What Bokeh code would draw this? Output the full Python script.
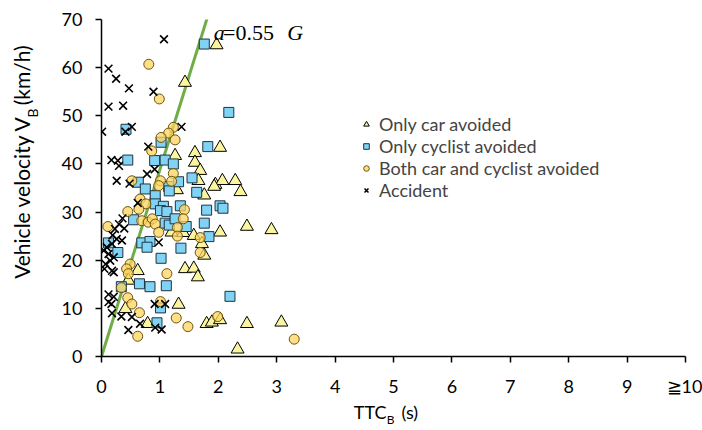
import numpy as np
from bokeh.plotting import figure
from bokeh.models import Legend, LegendItem, FixedTicker, LinearAxis
from bokeh.core.properties import value
from bokeh.embed import file_html
from bokeh.resources import INLINE

# ---------------- data (TTC_B in s, V_B in km/h) ----------------
car_ttc = [1.97, 1.43, 2.03, 1.26, 1.60, 1.60, 1.69, 1.66, 1.95, 2.07, 2.29, 1.29, 1.76, 1.93,
           2.38, 2.03, 2.49, 2.91, 1.20, 1.40, 1.58, 1.72, 1.76, 0.62, 1.43, 1.58, 1.65, 0.46,
           0.41, 1.32, 0.79, 1.80, 1.89, 2.03, 2.49, 3.08, 2.33]
car_v = [64.7, 56.9, 43.4, 41.7, 42.3, 40.3, 38.6, 36.5, 35.7, 36.5, 36.5, 34.6, 33.5, 35.3,
         34.2, 25.8, 27.0, 26.3, 25.8, 25.7, 25.1, 23.4, 21.0, 17.8, 18.2, 18.3, 16.5, 15.8,
         9.9, 10.8, 6.8, 6.8, 7.1, 7.6, 6.8, 7.1, 1.5]

cyc_ttc = [1.76, 2.18, 0.42, 1.02, 1.82, 0.45, 0.91, 1.09, 1.23, 0.63, 1.32, 1.55, 1.15, 0.75,
           1.16, 1.63, 0.92, 0.92, 1.06, 1.01, 1.12, 1.35, 1.80, 2.03, 2.08, 0.55, 1.09, 1.16,
           1.26, 1.45, 1.76, 1.84, 0.69, 0.83, 0.78, 0.12, 0.28, 1.36, 1.02, 0.34, 0.65, 0.83,
           1.11, 2.20, 1.01, 0.95]
cyc_v = [64.9, 50.7, 47.2, 44.5, 43.6, 40.8, 40.7, 40.8, 40.0, 36.2, 36.3, 37.1, 35.3, 34.8,
         34.4, 34.1, 33.4, 31.7, 31.2, 30.3, 30.1, 31.3, 30.4, 31.3, 30.8, 28.4, 27.7, 27.3,
         28.6, 27.0, 27.7, 24.9, 23.6, 23.9, 22.7, 23.6, 21.6, 22.5, 20.4, 14.5, 15.1, 14.5,
         14.7, 12.5, 10.1, 7.0]

both_ttc = [0.81, 0.99, 1.23, 1.15, 1.02, 1.26, 0.86, 1.23, 0.52, 1.01, 1.20, 0.98, 0.66, 0.76,
            1.42, 0.45, 0.64, 0.69, 0.80, 0.87, 0.92, 1.40, 1.30, 0.11, 0.98, 1.30, 1.69, 1.69,
            0.49, 0.43, 1.12, 0.46, 0.34, 0.45, 0.52, 0.65, 0.62, 1.01, 1.28, 1.48, 1.99, 3.30]
both_v = [60.7, 53.5, 47.6, 46.4, 45.5, 45.0, 42.7, 38.0, 36.5, 36.5, 36.4, 35.5, 32.7, 31.7,
          30.5, 30.1, 30.6, 28.2, 27.9, 28.6, 27.5, 28.6, 26.8, 27.0, 25.8, 25.0, 24.7, 21.6,
          19.2, 18.2, 17.2, 17.2, 14.3, 12.2, 10.9, 9.1, 4.2, 11.4, 8.0, 6.2, 8.3, 3.6]

acc_ttc = [1.07, 0.12, 0.25, 0.47, 0.89, 0.12, 0.37, 0.01, 0.41, 0.52, 1.37, 0.80, 0.17, 0.28,
           0.30, 0.91, 0.78, 0.26, 0.48, 0.62, 0.36, 0.23, 0.30, 0.39, 0.19, 0.26, 0.35, 0.18,
           0.98, 0.09, 0.12, 0.21, 0.04, 0.15, 0.05, 0.18, 0.21, 0.07, 0.12, 0.21, 0.17, 0.12,
           0.18, 0.34, 0.52, 0.66, 0.46, 0.91, 1.09, 0.92, 1.03]
acc_v = [65.9, 59.8, 57.7, 55.7, 55.0, 51.9, 52.1, 46.7, 46.7, 47.7, 47.7, 43.6, 40.8, 40.7,
         39.6, 38.9, 37.9, 36.5, 35.9, 31.9, 28.7, 26.5, 27.5, 26.6, 25.2, 24.4, 24.1, 23.4,
         23.7, 22.7, 21.3, 20.6, 22.0, 19.9, 18.2, 17.8, 17.5, 19.2, 12.9, 12.4, 10.9, 11.3,
         9.0, 8.3, 8.2, 6.8, 5.5, 10.9, 10.9, 6.0, 5.6]

x_ticks = [0, 1, 2, 3, 4, 5, 6, 7, 8, 9, 10]
x_tick_labels = ["0", "1", "2", "3", "4", "5", "6", "7", "8", "9", "\u226710"]
y_ticks = [0, 10, 20, 30, 40, 50, 60, 70]

series_labels = ["Only car avoided", "Only cyclist avoided",
                 "Both car and cyclist avoided", "Accident"]

decel_g = 0.55
line_v = [0, 80]  # km/h
line_ttc = [v / 3.6 / (2 * decel_g * 9.81) for v in line_v]

FONT = "Lato"
FS = "18px"

p = figure(width=702, height=430, output_backend="svg", toolbar_location=None,
           x_range=(0, 10), y_range=(0, 70),
           min_border_left=101, min_border_right=17, min_border_top=19, min_border_bottom=74)
p.outline_line_color = None
p.grid.grid_line_color = None
p.background_fill_color = "white"
p.border_fill_color = "white"

for ax in (p.xaxis[0], p.yaxis[0]):
    ax.axis_line_color = "black"
    ax.axis_line_width = 1.5
    ax.major_tick_line_color = "black"
    ax.major_tick_line_width = 1.5
    ax.major_tick_out = 6
    ax.major_tick_in = 0
    ax.minor_tick_line_color = None
    ax.major_label_text_font = FONT
    ax.major_label_text_font_size = FS
    ax.major_label_text_color = "black"

p.xaxis.ticker = FixedTicker(ticks=x_ticks)
p.xaxis.major_label_overrides = {t: l for t, l in zip(x_ticks, x_tick_labels)}
p.xaxis.major_label_standoff = 12
p.yaxis.ticker = FixedTicker(ticks=y_ticks)
p.yaxis.major_label_standoff = 13


def text_axis(pos_labels, font_size, standoff, vertical=False):
    ticks = [t for t, _ in pos_labels]
    ax = LinearAxis(ticker=FixedTicker(ticks=ticks),
                    major_label_overrides={t: s for t, s in pos_labels},
                    axis_line_color=None, major_tick_line_color=None,
                    minor_tick_line_color=None, major_tick_out=0, major_tick_in=0,
                    minor_tick_out=0, minor_tick_in=0,
                    major_label_standoff=standoff,
                    major_label_text_font=FONT, major_label_text_font_size=font_size,
                    major_label_text_color="black")
    if vertical:
        ax.major_label_orientation = "vertical"
    return ax


# x-axis title "TTC_B (s)" built from label-only axes
p.add_layout(text_axis([(4.60, "TTC"), (5.28, "(s)")], FS, 1), "below")
p.add_layout(text_axis([(4.95, "B")], "12px", -14), "below")

# y-axis title "Vehicle velocity V_B (km/h)"
p.add_layout(text_axis([(50.6, "B")], "14px", 17, vertical=True), "left")
p.add_layout(text_axis([(33.1, "Vehicle velocity V"), (58.4, "(km/h)")], "21px", -13,
                       vertical=True), "left")

# green deceleration line
p.line(line_ttc, line_v, line_color="#70AD47", line_width=3)

r_car = p.scatter(car_ttc, car_v, marker="triangle", size=13, fill_color="#FAF59E",
                  line_color="black", line_width=1)
r_cyc = p.scatter(cyc_ttc, cyc_v, marker="square", size=10, fill_color="#80D3F5",
                  line_color="#1f3340", line_width=1)
r_both = p.scatter(both_ttc, both_v, marker="circle", size=10, fill_color="#FFD45E",
                   fill_alpha=0.75, line_color="#6b5310", line_width=1)
r_acc = p.scatter(acc_ttc, acc_v, marker="x", size=11, line_color="black", line_width=1.6)

legend = Legend(items=[LegendItem(label=l, renderers=[r])
                       for l, r in zip(series_labels, [r_car, r_cyc, r_both, r_acc])],
                location=(258, 155), border_line_color=None, background_fill_alpha=0,
                label_text_font=FONT, label_text_font_size=FS, glyph_width=14,
                glyph_height=20, label_height=20, spacing=-1, padding=0, margin=0,
                label_standoff=6)
p.add_layout(legend)

# annotation a=0.55 G as text glyphs
ann_x = [1.92, 2.08, 3.18]
ann_y = [67.2, 67.2, 67.2]
ann_t = ["a", "=0.55", "G"]
ann_style = ["italic", "normal", "italic"]
for i in range(3):
    p.text(x=ann_x[i:i + 1], y=ann_y[i:i + 1], text=ann_t[i:i + 1],
           text_font=value("Liberation Serif"), text_font_style=ann_style[i],
           text_font_size="22px", text_baseline="alphabetic")

open("out.html", "w").write(file_html(p, INLINE))
